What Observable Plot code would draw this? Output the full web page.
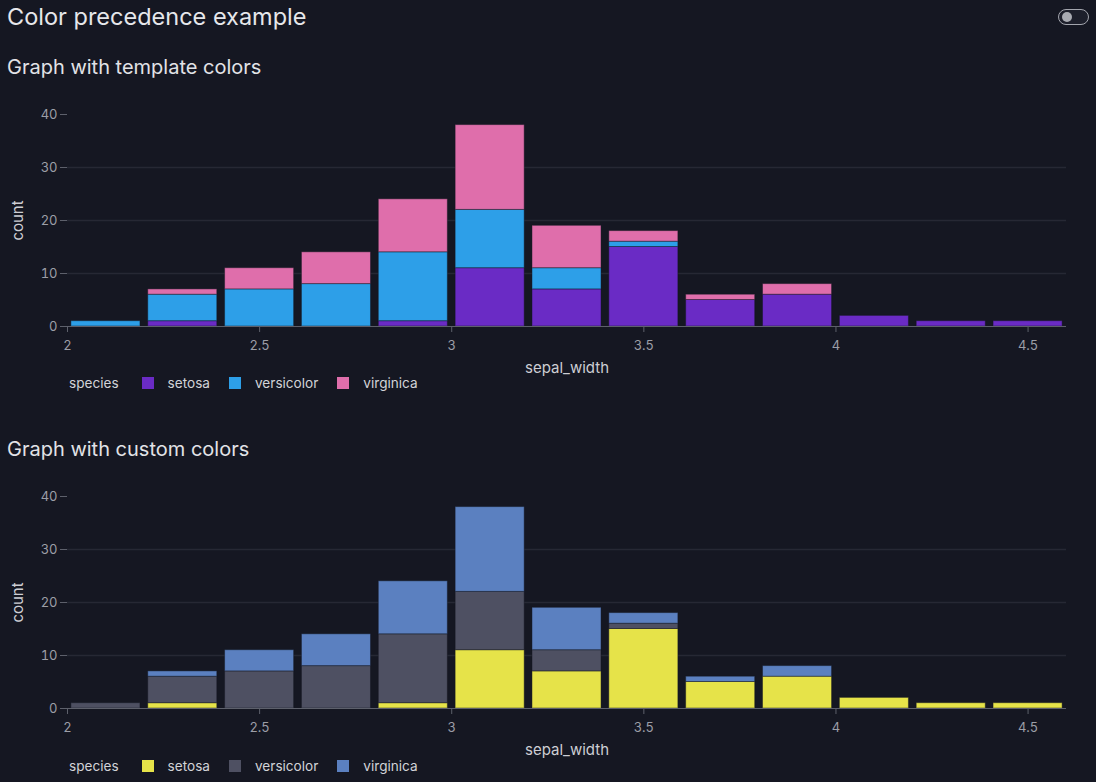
<!DOCTYPE html>
<html>
<head>
<meta charset="utf-8">
<script src="https://cdn.jsdelivr.net/npm/d3@7"></script>
<script src="https://cdn.jsdelivr.net/npm/@observablehq/plot@0.6"></script>
<style>
  html, body { margin: 0; padding: 0; background: #151722; }
  body { width: 1096px; height: 782px; position: relative; overflow: hidden; font-family: Inter, "Noto Sans", sans-serif; color: #e4e5e9; }
  .title { position: absolute; left: 7px; top: 2px; font-size: 23.5px; font-weight: 400; color: #e6e7eb; }
  .sub { position: absolute; left: 7px; font-size: 20px; color: #e2e3e7; }
  .chart { position: absolute; left: 0; }
  .legend { position: absolute; left: 69px; display: flex; align-items: center; font-size: 13.6px; line-height: 18px; color: #d2d3d8; }
  .legend .name { margin-right: 23px; }
  .legend .sw { width: 12px; height: 12px; margin-right: 14px; display: inline-block; }
  .legend .item { display: flex; align-items: center; margin-right: 19px; }
  .toggle { position: absolute; left: 1058px; top: 9px; width: 29px; height: 14px; border: 1.5px solid #a3a5ad; border-radius: 9px; background: #1d1f2b; }
  .toggle::after { content: ""; position: absolute; left: 3px; top: 2px; width: 10px; height: 10px; border-radius: 50%; background: #a9abb2; }
</style>
</head>
<body>
<div class="title">Color precedence example</div>
<div class="toggle"></div>
<div id="root"></div>
<script>
// Iris sepal_width histogram, bins of width 0.2 starting at 2.0
const binStarts = [2.0, 2.2, 2.4, 2.6, 2.8, 3.0, 3.2, 3.4, 3.6, 3.8, 4.0, 4.2, 4.4];
const binWidth = 0.2;
const species = ["setosa", "versicolor", "virginica"];
const setosaCounts     = [0, 1, 0, 0, 1, 11, 7, 15, 5, 6, 2, 1, 1];
const versicolorCounts = [1, 5, 7, 8, 13, 11, 4, 1, 0, 0, 0, 0, 0];
const virginicaCounts  = [0, 1, 4, 6, 10, 16, 8, 2, 1, 2, 0, 0, 0];
const xTicks = [2, 2.5, 3, 3.5, 4, 4.5];
const yTicks = [0, 10, 20, 30, 40];
const templateColors = ["#6a2bc5", "#2d9fe8", "#df6eab"];
const customColors = ["#e6e349", "#4e5062", "#5b80c0"];

const countsBySpecies = [setosaCounts, versicolorCounts, virginicaCounts];
const rows = [];
species.forEach((s, si) => {
  binStarts.forEach((x, i) => {
    const c = countsBySpecies[si][i];
    if (c > 0) rows.push({species: s, x1: x, x2: +(x + binWidth).toFixed(1), count: c});
  });
});

function histogram(colors) {
  return Plot.plot({
    width: 1096,
    height: 280,
    marginLeft: 67,
    marginRight: 30,
    marginTop: 18,
    marginBottom: 50,
    style: {background: "transparent", fontFamily: "Inter, sans-serif", fontSize: "13px", color: "#9c9ea7"},
    x: {domain: [2, 4.6]},
    y: {domain: [0, 40]},
    color: {domain: species, range: colors},
    marks: [
      Plot.gridY([10, 20, 30], {stroke: "#262834", strokeOpacity: 1, strokeWidth: 1.5}),
      Plot.rectY(rows, Plot.stackY({
        x1: "x1", x2: "x2", y: "count", fill: "species", order: species,
        insetLeft: 3.9, insetRight: 3.9,
        stroke: "#151722", strokeOpacity: 0.45, strokeWidth: 1
      })),
      Plot.ruleY([0], {stroke: "#5d606b", strokeWidth: 1.2}),
      Plot.axisY({ticks: yTicks, tickSize: 7, tickPadding: 3, stroke: "#5d606b",
        label: "count", labelAnchor: "center", labelArrow: "none", labelOffset: 55,
        fill: "#9c9ea7"}),
      Plot.axisX({ticks: xTicks, tickSize: 6, tickPadding: 8, stroke: "#5d606b", tickFormat: d3.format("~g"),
        label: "sepal_width", labelAnchor: "center", labelArrow: "none", labelOffset: 46,
        fill: "#9c9ea7"})
    ]
  });
}

const root = document.getElementById("root");
function section(subtitle, subTop, chartTop, legendTop, colors) {
  const sub = document.createElement("div");
  sub.className = "sub";
  sub.style.top = subTop + "px";
  sub.textContent = subtitle;
  root.appendChild(sub);

  const plot = histogram(colors);
  const wrap = document.createElement("div");
  wrap.className = "chart";
  wrap.style.top = chartTop + "px";
  wrap.appendChild(plot);
  root.appendChild(wrap);

  // axis titles slightly brighter than tick labels
  plot.querySelectorAll("[aria-label='y-axis label'] text, [aria-label='x-axis label'] text")
    .forEach(t => { t.setAttribute("fill", "#cdced4"); t.style.fontSize = "15px"; });

  // species legend built from the plot's color scale
  const scale = plot.scale("color");
  const leg = document.createElement("div");
  leg.className = "legend";
  leg.style.top = legendTop + "px";
  const name = document.createElement("span");
  name.className = "name";
  name.textContent = "species";
  leg.appendChild(name);
  scale.domain.forEach((d, i) => {
    const item = document.createElement("span");
    item.className = "item";
    const sw = document.createElement("span");
    sw.className = "sw";
    sw.style.background = scale.range[i];
    item.appendChild(sw);
    item.appendChild(document.createTextNode(d));
    leg.appendChild(item);
  });
  root.appendChild(leg);
}

section("Graph with template colors", 55, 96, 374, templateColors);
section("Graph with custom colors", 437, 478, 757, customColors);
</script>
</body>
</html>
